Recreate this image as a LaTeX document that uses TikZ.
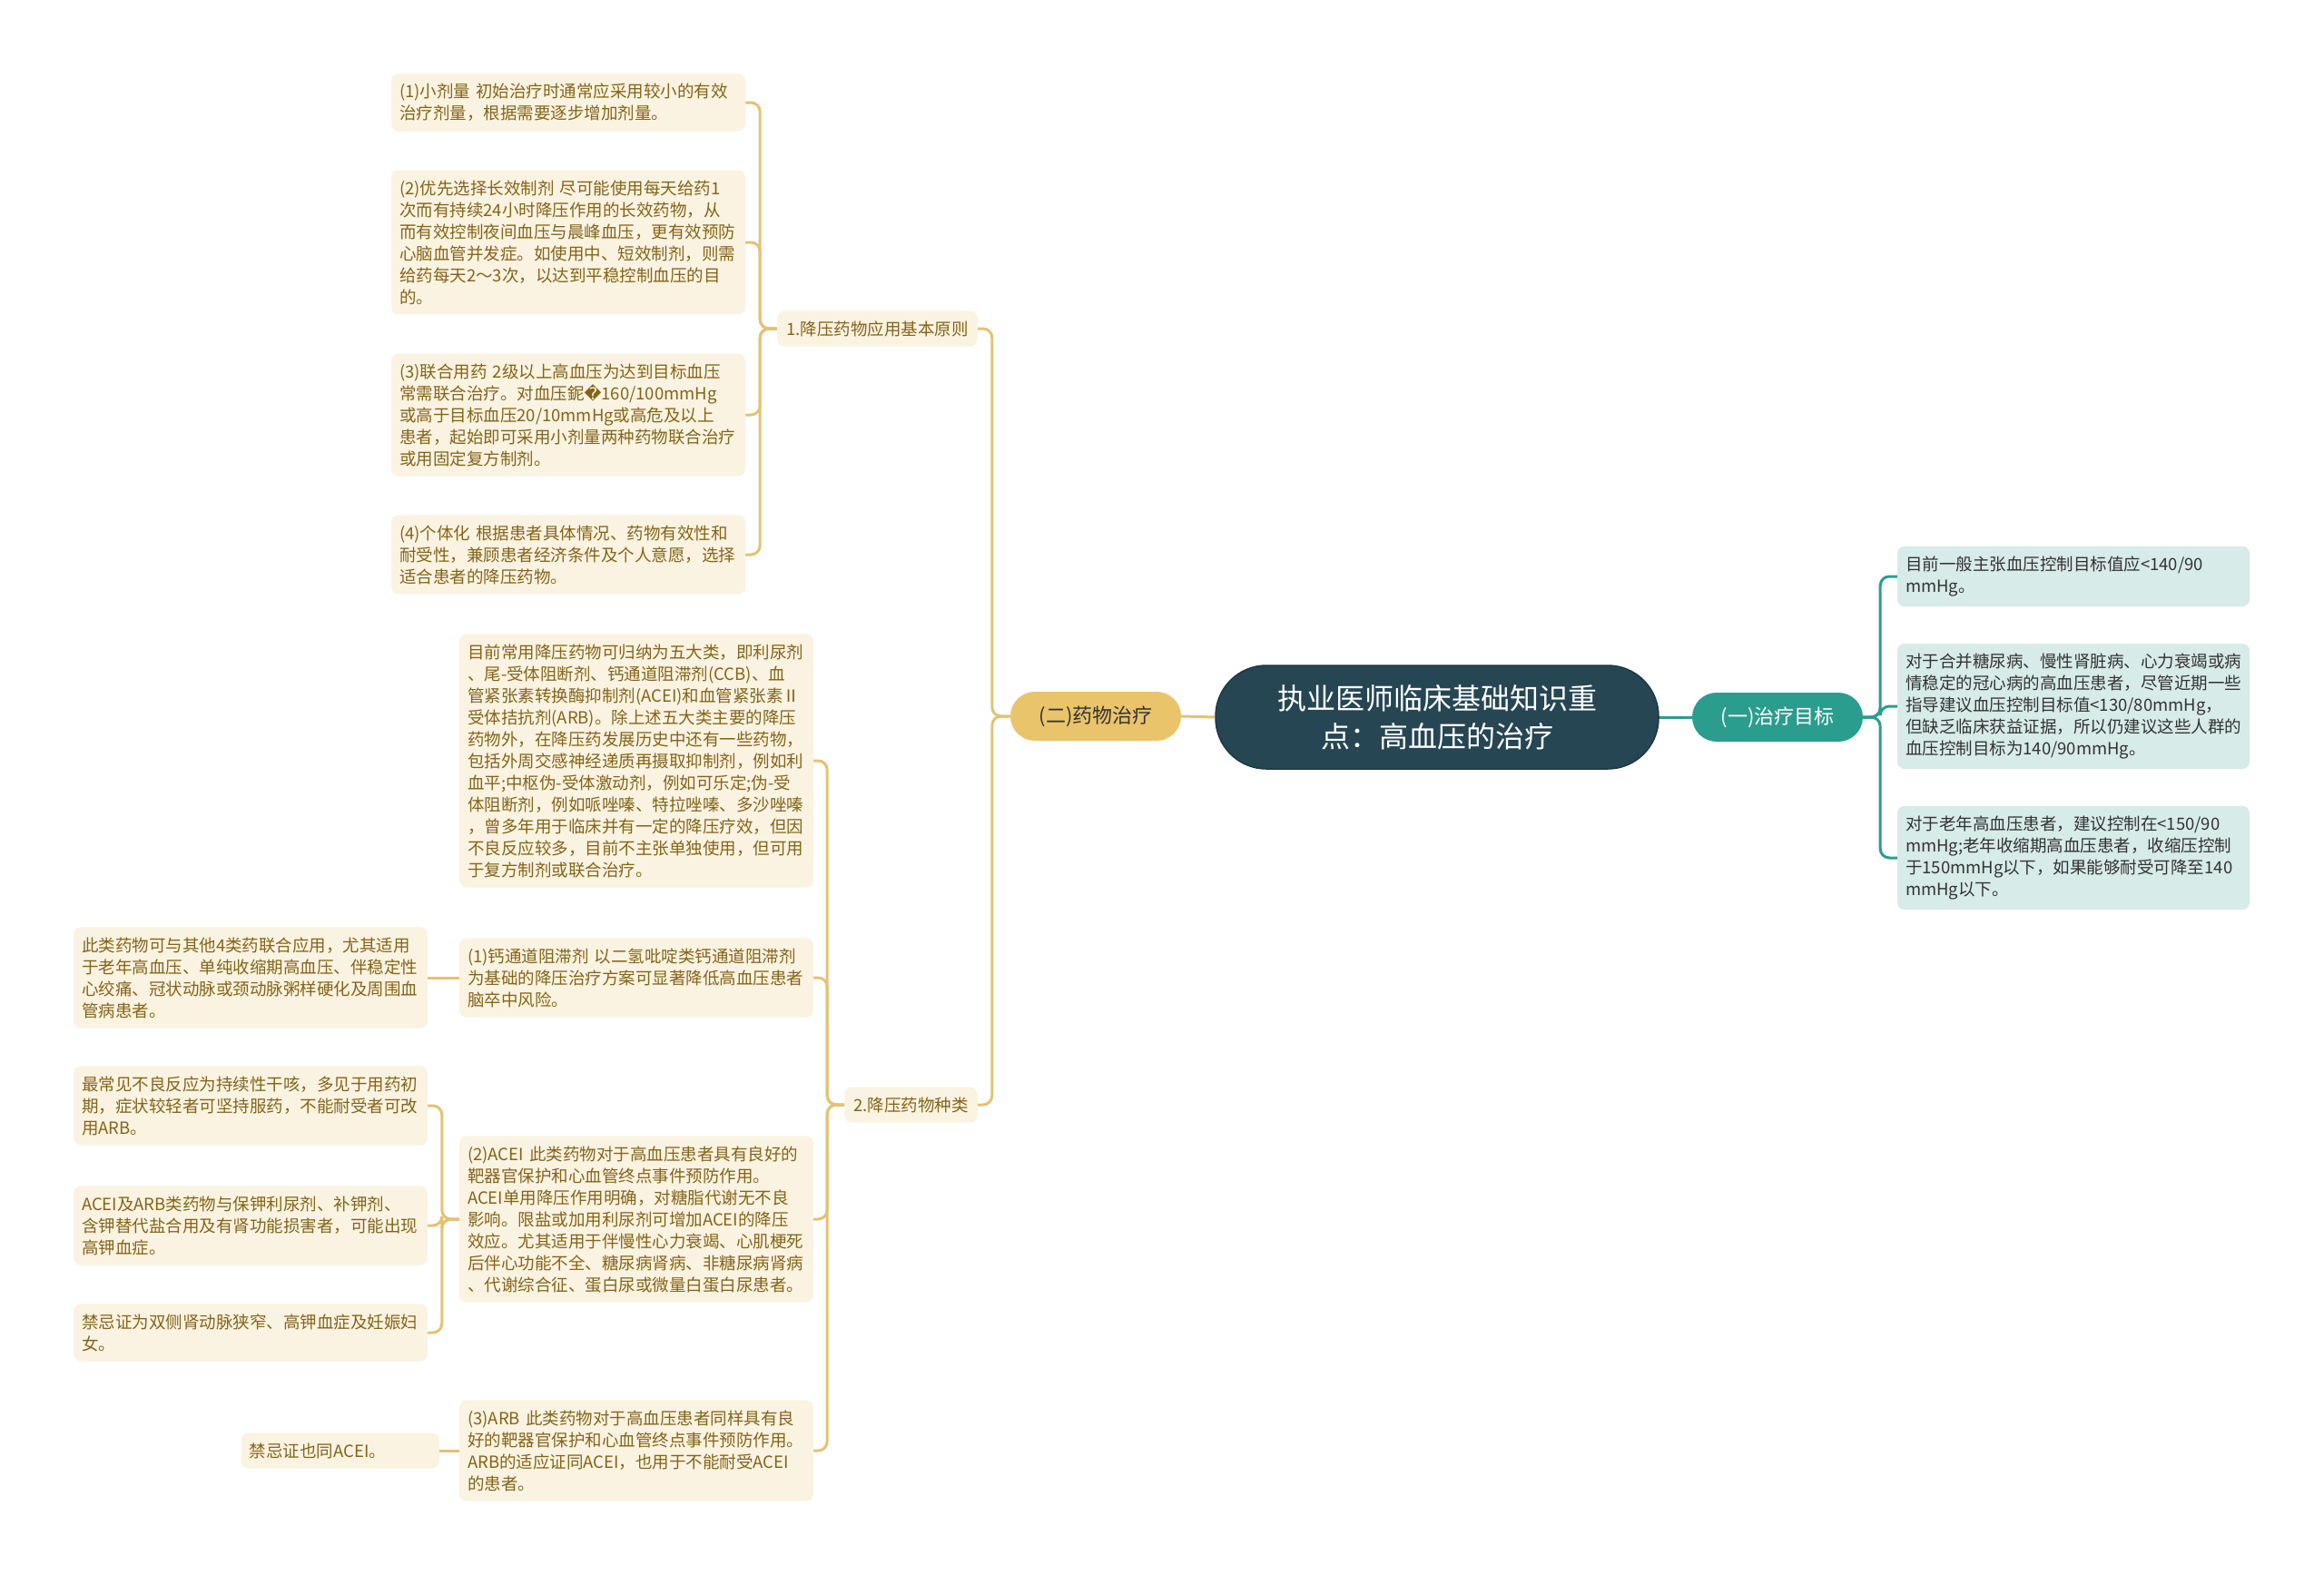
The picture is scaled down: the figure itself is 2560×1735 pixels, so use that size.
\documentclass[tikz,border=0pt]{standalone}
\usepackage{fontspec}
\setmainfont{Noto Sans CJK SC}
\newfontfamily\replfont{DejaVu Sans}
\usetikzlibrary{positioning,backgrounds}

\definecolor{croot}{HTML}{264653}
\definecolor{cgold}{HTML}{E9C46A}
\definecolor{cgoldline}{HTML}{E4C274}
\definecolor{ccream}{HTML}{FAF3E1}
\definecolor{cbrown}{HTML}{836419}
\definecolor{cteal}{HTML}{2A9D8F}
\definecolor{ctealpale}{HTML}{D7EBE8}
\definecolor{cdark}{HTML}{333333}

\tikzset{
  root/.style={fill=croot,draw=croot!80!black,line width=1.5pt,text=white,
    rounded corners=56pt,minimum width=488pt,minimum height=114pt,
    align=center,font=\fontsize{32}{42}\selectfont},
  topic/.style={rounded corners=27pt,minimum width=188pt,minimum height=54pt,
    inner sep=0pt,font=\fontsize{22}{28}\selectfont},
  drugtopic/.style={topic,fill=cgold,text=cdark},
  goaltopic/.style={topic,fill=cteal,text=white},
  sub/.style={fill=ccream,text=cbrown,rounded corners=8pt,inner xsep=10pt,
    inner ysep=11pt,font=\fontsize{18.5}{24}\selectfont},
  leaf/.style={fill=ccream,text=cbrown,rounded corners=8pt,text width=372pt,
    align=left,inner xsep=9pt,inner ysep=11pt,font=\fontsize{18.5}{24}\selectfont},
  goalleaf/.style={leaf,fill=ctealpale,text=cdark,text width=370pt,
    font=\fontsize{18.5}{24}\selectfont},
  goldline/.style={draw=cgoldline,line width=3pt,rounded corners=10pt},
  tealline/.style={draw=cteal,line width=3pt,rounded corners=10pt},
}

\begin{document}
\begin{tikzpicture}[x=1pt,y=-1pt]
  \useasboundingbox (0,0) rectangle (2560,1735);
  % centre and first level
  \node[root] (root) at (1583,790) {执业医师临床基础知识重\\点：高血压的治疗};
  \node[drugtopic] (drug) at (1207,789) {(二)药物治疗};
  \node[goaltopic] (goal) at (1958,790) {(一)治疗目标};

  % (一) leaves
  \node[goalleaf] (aim1) at (2284,635) {目前一般主张血压控制目标值应<140/90\\mmHg。};
  \node[goalleaf] (aim2) at (2284,778) {对于合并糖尿病、慢性肾脏病、心力衰竭或病\\情稳定的冠心病的高血压患者，尽管近期一些\\指导建议血压控制目标值<130/80mmHg，\\但缺乏临床获益证据，所以仍建议这些人群的\\血压控制目标为140/90mmHg。};
  \node[goalleaf] (aim3) at (2284,945) {对于老年高血压患者，建议控制在<150/90\\mmHg;老年收缩期高血压患者，收缩压控制\\于150mmHg以下，如果能够耐受可降至140\\mmHg以下。};

  % (二) second level
  \node[sub,anchor=east] (rule) at (1077,362) {1.降压药物应用基本原则};
  \node[sub,anchor=east] (kind) at (1077,1217) {2.降压药物种类};

  \node[leaf] (rule1) at (626,113) {(1)小剂量~初始治疗时通常应采用较小的有效\\治疗剂量，根据需要逐步增加剂量。};
  \node[leaf] (rule2) at (626,267) {(2)优先选择长效制剂~尽可能使用每天给药1\\次而有持续24小时降压作用的长效药物，从\\而有效控制夜间血压与晨峰血压，更有效预防\\心脑血管并发症。如使用中、短效制剂，则需\\给药每天2～3次，以达到平稳控制血压的目\\的。};
  \node[leaf] (rule3) at (626,457) {(3)联合用药~2级以上高血压为达到目标血压\\常需联合治疗。对血压鈮{\replfont �}160/100mmHg\\或高于目标血压20/10mmHg或高危及以上\\患者，起始即可采用小剂量两种药物联合治疗\\或用固定复方制剂。};
  \node[leaf] (rule4) at (626,611) {(4)个体化~根据患者具体情况、药物有效性和\\耐受性，兼顾患者经济条件及个人意愿，选择\\适合患者的降压药物。};

  \node[leaf] (kind1) at (701,838) {目前常用降压药物可归纳为五大类，即利尿剂\\、尾-受体阻断剂、钙通道阻滞剂(CCB)、血\\管紧张素转换酶抑制剂(ACEI)和血管紧张素Ⅱ\\受体拮抗剂(ARB)。除上述五大类主要的降压\\药物外，在降压药发展历史中还有一些药物，\\包括外周交感神经递质再摄取抑制剂，例如利\\血平;中枢伪-受体激动剂，例如可乐定;伪-受\\体阻断剂，例如哌唑嗪、特拉唑嗪、多沙唑嗪\\，曾多年用于临床并有一定的降压疗效，但因\\不良反应较多，目前不主张单独使用，但可用\\于复方制剂或联合治疗。};
  \node[leaf] (kind2) at (701,1077) {(1)钙通道阻滞剂~以二氢吡啶类钙通道阻滞剂\\为基础的降压治疗方案可显著降低高血压患者\\脑卒中风险。};
  \node[leaf] (kind3) at (701,1343) {(2)ACEI~此类药物对于高血压患者具有良好的\\靶器官保护和心血管终点事件预防作用。\\ACEI单用降压作用明确，对糖脂代谢无不良\\影响。限盐或加用利尿剂可增加ACEI的降压\\效应。尤其适用于伴慢性心力衰竭、心肌梗死\\后伴心功能不全、糖尿病肾病、非糖尿病肾病\\、代谢综合征、蛋白尿或微量白蛋白尿患者。};
  \node[leaf] (kind4) at (701,1598) {(3)ARB~此类药物对于高血压患者同样具有良\\好的靶器官保护和心血管终点事件预防作用。\\ARB的适应证同ACEI，也用于不能耐受ACEI\\的患者。};

  % notes on the drug kinds
  \node[leaf] (ccb1) at (276,1077) {此类药物可与其他4类药联合应用，尤其适用\\于老年高血压、单纯收缩期高血压、伴稳定性\\心绞痛、冠状动脉或颈动脉粥样硬化及周围血\\管病患者。};
  \node[leaf] (acei1) at (276,1218) {最常见不良反应为持续性干咳，多见于用药初\\期，症状较轻者可坚持服药，不能耐受者可改\\用ARB。};
  \node[leaf] (acei2) at (276,1350) {ACEI及ARB类药物与保钾利尿剂、补钾剂、\\含钾替代盐合用及有肾功能损害者，可能出现\\高钾血症。};
  \node[leaf] (acei3) at (276,1468) {禁忌证为双侧肾动脉狭窄、高钾血症及妊娠妇\\女。};
  \node[leaf,text width=200pt,anchor=east] (arb1) at (484,1598) {禁忌证也同ACEI。};

  \begin{scope}[on background layer]
    \fill[white] (0,0) rectangle (2560,1735);
    \draw[goldline] (root.west) -- (drug.east);
    \draw[tealline] (root.east) -- (goal.west);
    \foreach \i in {1,2,3}
      \draw[tealline] (goal.east) -- ++(19,0) |- (aim\i.west);
    \foreach \n in {rule,kind}
      \draw[goldline] (drug.west) -- ++(-20,0) |- (\n.east);
    \foreach \i in {1,...,4}{
      \draw[goldline] (rule.west) -- ++(-19,0) |- (rule\i.east);
      \draw[goldline] (kind.west) -- ++(-19,0) |- (kind\i.east);
    }
    \draw[goldline] (kind2.west) -- (ccb1.east);
    \foreach \i in {1,2,3}
      \draw[goldline] (kind3.west) -- ++(-19,0) |- (acei\i.east);
    \draw[goldline] (kind4.west) -- (arb1.east);
  \end{scope}
\end{tikzpicture}
\end{document}
